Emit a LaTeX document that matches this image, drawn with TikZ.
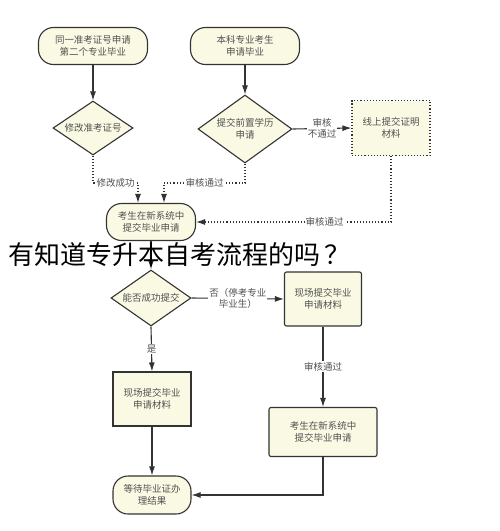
\documentclass[tikz,border=0pt]{standalone}
\usepackage{fontspec}
\setmainfont{Noto Sans CJK SC}
\usepackage{tikz}
\usetikzlibrary{shapes.geometric, arrows, arrows.meta}
\usepackage{xcolor}
\definecolor{boxfill}{HTML}{FAFAE4}
\definecolor{boxline}{HTML}{333333}
\definecolor{boxtext}{HTML}{505050}

\begin{document}
\begin{tikzpicture}[x=1pt, y=-1pt,
    every node/.style={font=\fontsize{9.5}{11.5}\selectfont, text=boxtext, align=center},
    roundbox/.style={draw=boxline, fill=boxfill, line width=1.1pt, rounded corners=15pt, inner sep=0pt},
    plainbox/.style={draw=boxline, fill=boxfill, line width=1.1pt, rounded corners=2pt, inner sep=0pt},
    dottedbox/.style={draw=boxline, fill=boxfill, line width=1.1pt, dotted, inner sep=0pt},
    choice/.style={draw=boxline, fill=boxfill, line width=1.1pt, diamond, aspect=1.4, inner sep=0pt},
    flow/.style={draw=boxline, line width=1.1pt, -{Latex[length=9pt, width=6pt]}},
    dotflow/.style={draw=boxline, line width=1.1pt, dotted, -{Latex[length=9pt, width=6pt]}},
    lbl/.style={fill=white, inner sep=1pt}]
    \useasboundingbox (0,0) rectangle (500,531);

    % Start nodes
    \node[roundbox, minimum width=109pt, minimum height=37pt] (second) at (93,46) {同一准考证号申请\\第二个专业毕业};
    \node[roundbox, minimum width=109pt, minimum height=37pt] (bachelor) at (245,46) {本科专业考生\\申请毕业};

    % Checks
    \node[choice, minimum width=80pt, minimum height=54pt] (modify) at (93,128) {修改准考证号};
    \node[choice, minimum width=94pt, minimum height=68pt] (prior) at (245,129) {提交前置学历\\申请};
    \node[dottedbox, minimum width=78pt, minimum height=55pt] (online) at (391,128) {线上提交证明\\材料};

    % Apply in the new system
    \node[roundbox, minimum width=89pt, minimum height=37pt] (apply) at (151,222) {考生在新系统中\\提交毕业申请};
    \coordinate (inA) at (138,183);
    \coordinate (inB) at (164,183);

    % Second part
    \node[choice, minimum width=80pt, minimum height=56pt] (submit) at (151,298) {能否成功提交};
    \node[plainbox, minimum width=77pt, minimum height=54pt] (onsiteR) at (323,299) {现场提交毕业\\申请材料};
    \node[plainbox, rounded corners=0pt, minimum width=78pt, minimum height=54pt] (onsiteL) at (152,399) {现场提交毕业\\申请材料};
    \node[plainbox, minimum width=108pt, minimum height=49pt] (applyR) at (323,432) {考生在新系统中\\提交毕业申请};
    \node[roundbox, minimum width=78pt, minimum height=38pt] (wait) at (152,495) {等待毕业证办\\理结果};

    % Connectors
    \draw[flow] (second) -- (modify);
    \draw[flow] (bachelor) -- (prior);
    \draw[flow] (prior.east) -- node[lbl] {审核\\不通过} (online.west);
    \draw[dotflow] (modify.south) |- node[lbl, pos=0.75] {修改成功} (inA) -- (inA |- apply.north);
    \draw[dotflow] (prior.south) |- node[lbl, pos=0.75] {审核通过} (inB) -- (inB |- apply.north);
    \draw[dotflow] (online.south) |- node[lbl, pos=0.67] {审核通过} (apply.east);
    \draw[flow] (apply) -- (submit);
    \draw[flow] (submit.east) -- node[lbl] {否（停考专业\\毕业生）} (onsiteR.west);
    \draw[flow] (submit.south) -- node[lbl] {是} (onsiteL.north);
    \draw[flow] (onsiteL) -- (wait);
    \draw[flow] (onsiteR) -- node[lbl] {审核通过} (applyR);
    \draw[flow] (applyR.south) |- (wait.east);

    % Caption over the chart
    \node[text=black, font=\fontsize{26}{26}\selectfont, anchor=west] (title) at (5,255) {有知道专升本自考流程的吗\hspace{4pt}？};
\end{tikzpicture}
\end{document}
